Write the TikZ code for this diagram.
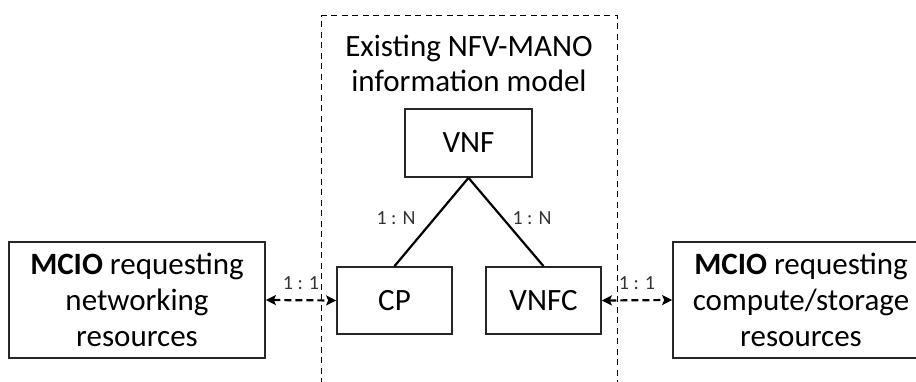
\documentclass[tikz,border=0pt]{standalone}
\usepackage{fontspec}
\setmainfont{Carlito}
\usetikzlibrary{arrows.meta}
\begin{document}
\begin{tikzpicture}[x=1pt,y=-1pt,
  box/.style={draw=black!85, line width=1.7pt, rectangle, inner sep=0pt, align=center,
    font=\fontsize{31}{36}\selectfont},
  lbl/.style={font=\fontsize{20}{22}\selectfont, inner sep=0pt, text=black!80},
  link/.style={line width=2.2pt},
  dlink/.style={line width=2.2pt, dash pattern=on 7pt off 4pt,
    {Stealth[length=10pt,width=10pt,inset=2pt]}-{Stealth[length=10pt,width=10pt,inset=2pt]}}
]
\useasboundingbox (0,0) rectangle (916,382);
\begin{scope}
\clip (0,0) rectangle (916,382);
% container
\node[draw=black, line width=1.3pt, dash pattern=on 6pt off 4.5pt, rectangle, inner sep=0pt,
  minimum width=296pt, minimum height=400pt, anchor=north west] (mano) at (321,15) {};
\node[align=center, inner sep=0pt, font=\fontsize{31}{35}\selectfont] (title) at (469,63)
  {Existing NFV-MANO\\information model};
% boxes
\node[box, minimum width=127pt, minimum height=68pt] (vnf) at (468.5,143) {VNF};
\node[box, minimum width=115pt, minimum height=67pt] (cp) at (394.5,300.5) {CP};
\node[box, minimum width=115pt, minimum height=67pt] (vnfc) at (543.5,300.5) {VNFC};
\node[box, minimum width=256pt, minimum height=116pt] (net) at (137,300)
  {\textbf{MCIO} requesting\\networking\\resources};
\node[box, minimum width=256pt, minimum height=116pt] (comp) at (801,300)
  {\textbf{MCIO} requesting\\compute/storage\\resources};
% connectors
\draw[link] (vnf.south) -- (cp.north);
\draw[link] (vnf.south) -- (vnfc.north);
\draw[dlink] (net.east) -- (cp.west);
\draw[dlink] (vnfc.east) -- (comp.west);
% labels
\node[lbl] (l1) at (301,283) {1 : 1};
\node[lbl] (l2) at (637,283) {1 : 1};
\node[lbl] (l3) at (396,218) {1 : N};
\node[lbl] (l4) at (532,218) {1 : N};
\end{scope}
\end{tikzpicture}
\end{document}
